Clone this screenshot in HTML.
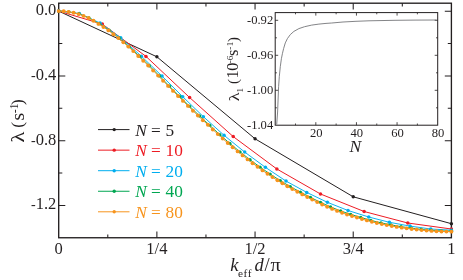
<!DOCTYPE html>
<html><head><meta charset="utf-8"><title>chart</title>
<style>
html,body{margin:0;padding:0;background:#fff;}
body{width:463px;height:280px;overflow:hidden;}
svg{display:block;will-change:transform;opacity:0.999;}
text{font-family:"Liberation Serif",serif;fill:#231f20;}
.i{font-style:italic;}
</style></head><body>
<svg width="463" height="280" viewBox="0 0 463 280">
<rect width="463" height="280" fill="#fff"/>
<rect x="58.7" y="3.2" width="392.70" height="234.55" fill="none" stroke="#231f20" stroke-width="1.35"/>
<path d="M107.79 237.75v-3.2 M107.79 3.2v3.2 M156.88 237.75v-6.3 M156.88 3.2v6.3 M205.96 237.75v-3.2 M205.96 3.2v3.2 M255.05 237.75v-6.3 M255.05 3.2v6.3 M304.14 237.75v-3.2 M304.14 3.2v3.2 M353.22 237.75v-6.3 M353.22 3.2v6.3 M402.31 237.75v-3.2 M402.31 3.2v3.2 M58.7 11.20h6.6 M451.4 11.20h-6.6 M58.7 43.57h3.6 M451.4 43.57h-3.6 M58.7 75.94h6.6 M451.4 75.94h-6.6 M58.7 108.32h3.6 M451.4 108.32h-3.6 M58.7 140.69h6.6 M451.4 140.69h-6.6 M58.7 173.06h3.6 M451.4 173.06h-3.6 M58.7 205.43h6.6 M451.4 205.43h-6.6" stroke="#231f20" stroke-width="1.05" fill="none"/>
<g>
<polyline points="58.70,11.10 156.88,56.80 255.05,138.80 353.22,196.80 451.40,223.70" fill="none" stroke="#231f20" stroke-width="1.0" stroke-linejoin="round"/>
<circle cx="58.70" cy="11.10" r="1.7" fill="#231f20"/><circle cx="156.88" cy="56.80" r="1.7" fill="#231f20"/><circle cx="255.05" cy="138.80" r="1.7" fill="#231f20"/><circle cx="353.22" cy="196.80" r="1.7" fill="#231f20"/><circle cx="451.40" cy="223.70" r="1.7" fill="#231f20"/>
<polyline points="58.70,11.10 102.33,24.10 145.97,56.40 189.60,97.50 233.23,136.60 276.87,169.00 320.50,194.00 364.13,211.50 407.77,223.00 451.40,229.00" fill="none" stroke="#ed1c24" stroke-width="1.0" stroke-linejoin="round"/>
<circle cx="58.70" cy="11.10" r="1.75" fill="#ed1c24"/><circle cx="102.33" cy="24.10" r="1.75" fill="#ed1c24"/><circle cx="145.97" cy="56.40" r="1.75" fill="#ed1c24"/><circle cx="189.60" cy="97.50" r="1.75" fill="#ed1c24"/><circle cx="233.23" cy="136.60" r="1.75" fill="#ed1c24"/><circle cx="276.87" cy="169.00" r="1.75" fill="#ed1c24"/><circle cx="320.50" cy="194.00" r="1.75" fill="#ed1c24"/><circle cx="364.13" cy="211.50" r="1.75" fill="#ed1c24"/><circle cx="407.77" cy="223.00" r="1.75" fill="#ed1c24"/><circle cx="451.40" cy="229.00" r="1.75" fill="#ed1c24"/>
<polyline points="58.70,11.10 79.37,13.50 100.04,23.00 120.71,37.80 141.37,56.20 162.04,76.10 182.71,96.70 203.38,116.70 224.05,135.30 244.72,152.10 265.38,167.30 286.05,181.10 306.72,192.40 327.39,202.30 348.06,210.50 368.73,217.00 389.39,222.30 410.06,226.10 430.73,229.00 451.40,230.20" fill="none" stroke="#00aeef" stroke-width="0.95" stroke-linejoin="round"/>
<circle cx="58.70" cy="11.10" r="1.75" fill="#00aeef"/><circle cx="79.37" cy="13.50" r="1.75" fill="#00aeef"/><circle cx="100.04" cy="23.00" r="1.75" fill="#00aeef"/><circle cx="120.71" cy="37.80" r="1.75" fill="#00aeef"/><circle cx="141.37" cy="56.20" r="1.75" fill="#00aeef"/><circle cx="162.04" cy="76.10" r="1.75" fill="#00aeef"/><circle cx="182.71" cy="96.70" r="1.75" fill="#00aeef"/><circle cx="203.38" cy="116.70" r="1.75" fill="#00aeef"/><circle cx="224.05" cy="135.30" r="1.75" fill="#00aeef"/><circle cx="244.72" cy="152.10" r="1.75" fill="#00aeef"/><circle cx="265.38" cy="167.30" r="1.75" fill="#00aeef"/><circle cx="286.05" cy="181.10" r="1.75" fill="#00aeef"/><circle cx="306.72" cy="192.40" r="1.75" fill="#00aeef"/><circle cx="327.39" cy="202.30" r="1.75" fill="#00aeef"/><circle cx="348.06" cy="210.50" r="1.75" fill="#00aeef"/><circle cx="368.73" cy="217.00" r="1.75" fill="#00aeef"/><circle cx="389.39" cy="222.30" r="1.75" fill="#00aeef"/><circle cx="410.06" cy="226.10" r="1.75" fill="#00aeef"/><circle cx="430.73" cy="229.00" r="1.75" fill="#00aeef"/><circle cx="451.40" cy="230.20" r="1.75" fill="#00aeef"/>
<polyline points="58.70,11.10 68.77,11.79 78.84,13.93 88.91,17.81 98.98,23.67 109.05,30.27 119.12,38.07 129.18,46.66 139.25,56.15 149.32,65.74 159.39,75.88 169.46,86.21 179.53,96.34 189.60,106.31 199.67,115.99 209.74,125.37 219.81,134.64 229.88,143.49 239.95,151.79 250.02,159.75 260.08,167.13 270.15,174.10 280.22,180.61 290.29,186.63 300.36,192.09 310.43,197.35 320.50,202.35 330.57,206.88 340.64,210.94 350.71,214.34 360.78,217.43 370.85,220.36 380.92,222.84 390.98,224.89 401.05,226.68 411.12,228.10 421.19,229.39 431.26,230.33 441.33,230.95 451.40,231.22" fill="none" stroke="#00a651" stroke-width="0.95" stroke-linejoin="round"/>
<circle cx="58.70" cy="11.10" r="1.65" fill="#00a651"/><circle cx="68.77" cy="11.79" r="1.65" fill="#00a651"/><circle cx="78.84" cy="13.93" r="1.65" fill="#00a651"/><circle cx="88.91" cy="17.81" r="1.65" fill="#00a651"/><circle cx="98.98" cy="23.67" r="1.65" fill="#00a651"/><circle cx="109.05" cy="30.27" r="1.65" fill="#00a651"/><circle cx="119.12" cy="38.07" r="1.65" fill="#00a651"/><circle cx="129.18" cy="46.66" r="1.65" fill="#00a651"/><circle cx="139.25" cy="56.15" r="1.65" fill="#00a651"/><circle cx="149.32" cy="65.74" r="1.65" fill="#00a651"/><circle cx="159.39" cy="75.88" r="1.65" fill="#00a651"/><circle cx="169.46" cy="86.21" r="1.65" fill="#00a651"/><circle cx="179.53" cy="96.34" r="1.65" fill="#00a651"/><circle cx="189.60" cy="106.31" r="1.65" fill="#00a651"/><circle cx="199.67" cy="115.99" r="1.65" fill="#00a651"/><circle cx="209.74" cy="125.37" r="1.65" fill="#00a651"/><circle cx="219.81" cy="134.64" r="1.65" fill="#00a651"/><circle cx="229.88" cy="143.49" r="1.65" fill="#00a651"/><circle cx="239.95" cy="151.79" r="1.65" fill="#00a651"/><circle cx="250.02" cy="159.75" r="1.65" fill="#00a651"/><circle cx="260.08" cy="167.13" r="1.65" fill="#00a651"/><circle cx="270.15" cy="174.10" r="1.65" fill="#00a651"/><circle cx="280.22" cy="180.61" r="1.65" fill="#00a651"/><circle cx="290.29" cy="186.63" r="1.65" fill="#00a651"/><circle cx="300.36" cy="192.09" r="1.65" fill="#00a651"/><circle cx="310.43" cy="197.35" r="1.65" fill="#00a651"/><circle cx="320.50" cy="202.35" r="1.65" fill="#00a651"/><circle cx="330.57" cy="206.88" r="1.65" fill="#00a651"/><circle cx="340.64" cy="210.94" r="1.65" fill="#00a651"/><circle cx="350.71" cy="214.34" r="1.65" fill="#00a651"/><circle cx="360.78" cy="217.43" r="1.65" fill="#00a651"/><circle cx="370.85" cy="220.36" r="1.65" fill="#00a651"/><circle cx="380.92" cy="222.84" r="1.65" fill="#00a651"/><circle cx="390.98" cy="224.89" r="1.65" fill="#00a651"/><circle cx="401.05" cy="226.68" r="1.65" fill="#00a651"/><circle cx="411.12" cy="228.10" r="1.65" fill="#00a651"/><circle cx="421.19" cy="229.39" r="1.65" fill="#00a651"/><circle cx="431.26" cy="230.33" r="1.65" fill="#00a651"/><circle cx="441.33" cy="230.95" r="1.65" fill="#00a651"/><circle cx="451.40" cy="231.22" r="1.65" fill="#00a651"/>
<polyline points="58.70,11.10 63.67,11.30 68.64,11.90 73.61,12.70 78.58,14.10 83.55,15.90 88.53,18.00 93.50,20.80 98.47,23.90 103.44,27.00 108.41,30.40 113.38,34.20 118.35,38.10 123.32,42.30 128.29,46.60 133.26,51.10 138.23,56.00 143.21,60.70 148.18,65.50 153.15,70.50 158.12,75.60 163.09,80.70 168.06,85.90 173.03,90.90 178.00,96.00 182.97,100.90 187.94,105.90 192.91,110.70 197.88,115.50 202.86,120.20 207.83,124.80 212.80,129.50 217.77,134.10 222.74,138.60 227.71,143.00 232.68,147.30 237.65,151.40 242.62,155.40 247.59,159.40 252.56,163.20 257.54,166.80 262.51,170.40 267.48,173.80 272.45,177.10 277.42,180.30 282.39,183.30 287.36,186.30 292.33,189.10 297.30,191.80 302.27,194.40 307.24,197.00 312.22,199.60 317.19,202.10 322.16,204.50 327.13,206.80 332.10,208.90 337.07,210.90 342.04,212.80 347.01,214.50 351.98,216.00 356.95,217.50 361.92,219.00 366.89,220.40 371.87,221.80 376.84,223.00 381.81,224.10 386.78,225.10 391.75,226.00 396.72,226.90 401.69,227.65 406.66,228.35 411.63,228.95 416.60,229.50 421.57,230.10 426.55,230.55 431.52,230.90 436.49,231.25 441.46,231.45 446.43,231.60 451.40,231.65" fill="none" stroke="#f7941d" stroke-width="1.0" stroke-linejoin="round"/>
<circle cx="58.70" cy="11.10" r="1.95" fill="#f7941d"/><circle cx="63.67" cy="11.30" r="1.95" fill="#f7941d"/><circle cx="68.64" cy="11.90" r="1.95" fill="#f7941d"/><circle cx="73.61" cy="12.70" r="1.95" fill="#f7941d"/><circle cx="78.58" cy="14.10" r="1.95" fill="#f7941d"/><circle cx="83.55" cy="15.90" r="1.95" fill="#f7941d"/><circle cx="88.53" cy="18.00" r="1.95" fill="#f7941d"/><circle cx="93.50" cy="20.80" r="1.95" fill="#f7941d"/><circle cx="98.47" cy="23.90" r="1.95" fill="#f7941d"/><circle cx="103.44" cy="27.00" r="1.95" fill="#f7941d"/><circle cx="108.41" cy="30.40" r="1.95" fill="#f7941d"/><circle cx="113.38" cy="34.20" r="1.95" fill="#f7941d"/><circle cx="118.35" cy="38.10" r="1.95" fill="#f7941d"/><circle cx="123.32" cy="42.30" r="1.95" fill="#f7941d"/><circle cx="128.29" cy="46.60" r="1.95" fill="#f7941d"/><circle cx="133.26" cy="51.10" r="1.95" fill="#f7941d"/><circle cx="138.23" cy="56.00" r="1.95" fill="#f7941d"/><circle cx="143.21" cy="60.70" r="1.95" fill="#f7941d"/><circle cx="148.18" cy="65.50" r="1.95" fill="#f7941d"/><circle cx="153.15" cy="70.50" r="1.95" fill="#f7941d"/><circle cx="158.12" cy="75.60" r="1.95" fill="#f7941d"/><circle cx="163.09" cy="80.70" r="1.95" fill="#f7941d"/><circle cx="168.06" cy="85.90" r="1.95" fill="#f7941d"/><circle cx="173.03" cy="90.90" r="1.95" fill="#f7941d"/><circle cx="178.00" cy="96.00" r="1.95" fill="#f7941d"/><circle cx="182.97" cy="100.90" r="1.95" fill="#f7941d"/><circle cx="187.94" cy="105.90" r="1.95" fill="#f7941d"/><circle cx="192.91" cy="110.70" r="1.95" fill="#f7941d"/><circle cx="197.88" cy="115.50" r="1.95" fill="#f7941d"/><circle cx="202.86" cy="120.20" r="1.95" fill="#f7941d"/><circle cx="207.83" cy="124.80" r="1.95" fill="#f7941d"/><circle cx="212.80" cy="129.50" r="1.95" fill="#f7941d"/><circle cx="217.77" cy="134.10" r="1.95" fill="#f7941d"/><circle cx="222.74" cy="138.60" r="1.95" fill="#f7941d"/><circle cx="227.71" cy="143.00" r="1.95" fill="#f7941d"/><circle cx="232.68" cy="147.30" r="1.95" fill="#f7941d"/><circle cx="237.65" cy="151.40" r="1.95" fill="#f7941d"/><circle cx="242.62" cy="155.40" r="1.95" fill="#f7941d"/><circle cx="247.59" cy="159.40" r="1.95" fill="#f7941d"/><circle cx="252.56" cy="163.20" r="1.95" fill="#f7941d"/><circle cx="257.54" cy="166.80" r="1.95" fill="#f7941d"/><circle cx="262.51" cy="170.40" r="1.95" fill="#f7941d"/><circle cx="267.48" cy="173.80" r="1.95" fill="#f7941d"/><circle cx="272.45" cy="177.10" r="1.95" fill="#f7941d"/><circle cx="277.42" cy="180.30" r="1.95" fill="#f7941d"/><circle cx="282.39" cy="183.30" r="1.95" fill="#f7941d"/><circle cx="287.36" cy="186.30" r="1.95" fill="#f7941d"/><circle cx="292.33" cy="189.10" r="1.95" fill="#f7941d"/><circle cx="297.30" cy="191.80" r="1.95" fill="#f7941d"/><circle cx="302.27" cy="194.40" r="1.95" fill="#f7941d"/><circle cx="307.24" cy="197.00" r="1.95" fill="#f7941d"/><circle cx="312.22" cy="199.60" r="1.95" fill="#f7941d"/><circle cx="317.19" cy="202.10" r="1.95" fill="#f7941d"/><circle cx="322.16" cy="204.50" r="1.95" fill="#f7941d"/><circle cx="327.13" cy="206.80" r="1.95" fill="#f7941d"/><circle cx="332.10" cy="208.90" r="1.95" fill="#f7941d"/><circle cx="337.07" cy="210.90" r="1.95" fill="#f7941d"/><circle cx="342.04" cy="212.80" r="1.95" fill="#f7941d"/><circle cx="347.01" cy="214.50" r="1.95" fill="#f7941d"/><circle cx="351.98" cy="216.00" r="1.95" fill="#f7941d"/><circle cx="356.95" cy="217.50" r="1.95" fill="#f7941d"/><circle cx="361.92" cy="219.00" r="1.95" fill="#f7941d"/><circle cx="366.89" cy="220.40" r="1.95" fill="#f7941d"/><circle cx="371.87" cy="221.80" r="1.95" fill="#f7941d"/><circle cx="376.84" cy="223.00" r="1.95" fill="#f7941d"/><circle cx="381.81" cy="224.10" r="1.95" fill="#f7941d"/><circle cx="386.78" cy="225.10" r="1.95" fill="#f7941d"/><circle cx="391.75" cy="226.00" r="1.95" fill="#f7941d"/><circle cx="396.72" cy="226.90" r="1.95" fill="#f7941d"/><circle cx="401.69" cy="227.65" r="1.95" fill="#f7941d"/><circle cx="406.66" cy="228.35" r="1.95" fill="#f7941d"/><circle cx="411.63" cy="228.95" r="1.95" fill="#f7941d"/><circle cx="416.60" cy="229.50" r="1.95" fill="#f7941d"/><circle cx="421.57" cy="230.10" r="1.95" fill="#f7941d"/><circle cx="426.55" cy="230.55" r="1.95" fill="#f7941d"/><circle cx="431.52" cy="230.90" r="1.95" fill="#f7941d"/><circle cx="436.49" cy="231.25" r="1.95" fill="#f7941d"/><circle cx="441.46" cy="231.45" r="1.95" fill="#f7941d"/><circle cx="446.43" cy="231.60" r="1.95" fill="#f7941d"/><circle cx="451.40" cy="231.65" r="1.95" fill="#f7941d"/>
</g>
<text x="56.3" y="15.15" font-size="16.5" text-anchor="end">0.0</text>
<text x="56.3" y="79.89" font-size="16.5" text-anchor="end"><tspan font-size="14">-</tspan>0.4</text>
<text x="56.3" y="144.64" font-size="16.5" text-anchor="end"><tspan font-size="14">-</tspan>0.8</text>
<text x="56.3" y="209.38" font-size="16.5" text-anchor="end"><tspan font-size="14">-</tspan>1.2</text>
<text x="58.70" y="253.6" font-size="16.5" text-anchor="middle">0</text>
<text x="156.88" y="253.6" font-size="16.5" text-anchor="middle">1/4</text>
<text x="255.05" y="253.6" font-size="16.5" text-anchor="middle">1/2</text>
<text x="353.22" y="253.6" font-size="16.5" text-anchor="middle">3/4</text>
<text x="451.40" y="253.6" font-size="16.5" text-anchor="middle">1</text>
<text x="230.2" y="270.8" font-size="18.5" class="i">k</text><text x="238.0" y="277.0" font-size="11.3" style="font-variant-ligatures:none;letter-spacing:0.55px">eff</text><text x="254.6" y="270.8" font-size="18.5" class="i">d</text><text x="264.6" y="270.8" font-size="18.5">/</text><text x="270.4" y="270.8" font-size="18.5" textLength="10.2" lengthAdjust="spacingAndGlyphs">π</text>
<g transform="translate(24,144) rotate(-90)"><text transform="translate(1.5,0) scale(1.13,1)" font-size="19.7">λ</text><text x="16.3" y="-0.6" font-size="17.2">(</text><text x="23.4" y="0" font-size="19.5">s</text><text x="30.8" y="-6.1" font-size="11.8">-1</text><text x="38.9" y="-0.6" font-size="17.2">)</text></g>
<path d="M98 129.60H129.5" stroke="#231f20" stroke-width="1"/><circle cx="114.2" cy="129.60" r="1.7" fill="#231f20"/><text x="135.2" y="135.70" font-size="17.3" style="fill:#231f20"><tspan class="i">N</tspan> = <tspan dx="0.3" style="letter-spacing:0.3px">5</tspan></text>
<path d="M98 150.15H129.5" stroke="#ed1c24" stroke-width="1"/><circle cx="114.2" cy="150.15" r="1.7" fill="#ed1c24"/><text x="135.2" y="156.25" font-size="17.3" style="fill:#ed1c24"><tspan class="i">N</tspan> = <tspan dx="0.3" style="letter-spacing:0.3px">10</tspan></text>
<path d="M98 170.70H129.5" stroke="#00aeef" stroke-width="1"/><circle cx="114.2" cy="170.70" r="1.7" fill="#00aeef"/><text x="135.2" y="176.80" font-size="17.3" style="fill:#00aeef"><tspan class="i">N</tspan> = <tspan dx="0.3" style="letter-spacing:0.3px">20</tspan></text>
<path d="M98 191.25H129.5" stroke="#00a651" stroke-width="1"/><circle cx="114.2" cy="191.25" r="1.7" fill="#00a651"/><text x="135.2" y="197.35" font-size="17.3" style="fill:#00a651"><tspan class="i">N</tspan> = <tspan dx="0.3" style="letter-spacing:0.3px">40</tspan></text>
<path d="M98 211.80H129.5" stroke="#f7941d" stroke-width="1"/><circle cx="114.2" cy="211.80" r="1.7" fill="#f7941d"/><text x="135.2" y="217.90" font-size="17.3" style="fill:#f7941d"><tspan class="i">N</tspan> = <tspan dx="0.3" style="letter-spacing:0.3px">80</tspan></text>
<rect x="275.2" y="12.6" width="162.50" height="112.60" fill="#fff" stroke="#231f20" stroke-width="1.0"/>
<path d="M295.51 125.2v-1.7 M295.51 12.6v1.7 M315.82 125.2v-3.0 M315.82 12.6v3.0 M336.14 125.2v-1.7 M336.14 12.6v1.7 M356.45 125.2v-3.0 M356.45 12.6v3.0 M376.76 125.2v-1.7 M376.76 12.6v1.7 M397.07 125.2v-3.0 M397.07 12.6v3.0 M417.39 125.2v-1.7 M417.39 12.6v1.7 M275.2 20.30h3.0 M437.7 20.30h-3.0 M275.2 37.80h1.7 M437.7 37.80h-1.7 M275.2 55.30h3.0 M437.7 55.30h-3.0 M275.2 72.80h1.7 M437.7 72.80h-1.7 M275.2 90.30h3.0 M437.7 90.30h-3.0 M275.2 107.80h1.7 M437.7 107.80h-1.7" stroke="#231f20" stroke-width="0.8" fill="none"/>
<polyline points="276.7,124.5 277.6,112 278.6,86.6 279.3,76.6 280.3,66.6 281.4,58.7 282.4,53.7 283.6,48.6 285.3,42.9 287.4,38.6 290.3,34.6 293.9,31.4 298.9,28.6 304.6,26.7 311.7,25.1 318.9,24.1 326,23.4 331.7,23.0 343,22.0 356,21.3 369,20.8 395,20.3 415,20.1 436.5,20.0" fill="none" stroke="#6d6e71" stroke-width="0.85" stroke-linejoin="round"/>
<text x="273.2" y="23.70" font-size="12.6" text-anchor="end">-0.92</text>
<text x="273.2" y="58.70" font-size="12.6" text-anchor="end">-0.96</text>
<text x="273.2" y="93.70" font-size="12.6" text-anchor="end">-1.00</text>
<text x="273.2" y="128.70" font-size="12.6" text-anchor="end">-1.04</text>
<text x="316.22" y="136.75" font-size="12.6" text-anchor="middle">20</text>
<text x="356.85" y="136.75" font-size="12.6" text-anchor="middle">40</text>
<text x="397.47" y="136.75" font-size="12.6" text-anchor="middle">60</text>
<text x="438.10" y="136.75" font-size="12.6" text-anchor="middle">80</text>
<text x="355.3" y="151.8" font-size="17.5" class="i" text-anchor="middle">N</text>
<g transform="translate(238.4,101.3) rotate(-90)"><text transform="translate(0.0,0.4) scale(1.17,1)" font-size="15.6">λ</text><text x="8.9" y="4.8" font-size="9.2">1</text><text x="17.2" y="-0.5" font-size="14.8">(</text><text x="22.9" y="0" font-size="16.4" style="letter-spacing:-0.5px">10</text><text x="38.0" y="-5.4" font-size="9.2">-6</text><text x="45.2" y="0" font-size="16.4">s</text><text x="51.6" y="-5.4" font-size="9.2" style="letter-spacing:0.4px">-1</text><text x="59.4" y="-0.5" font-size="14.8">)</text></g>
</svg>
</body></html>
